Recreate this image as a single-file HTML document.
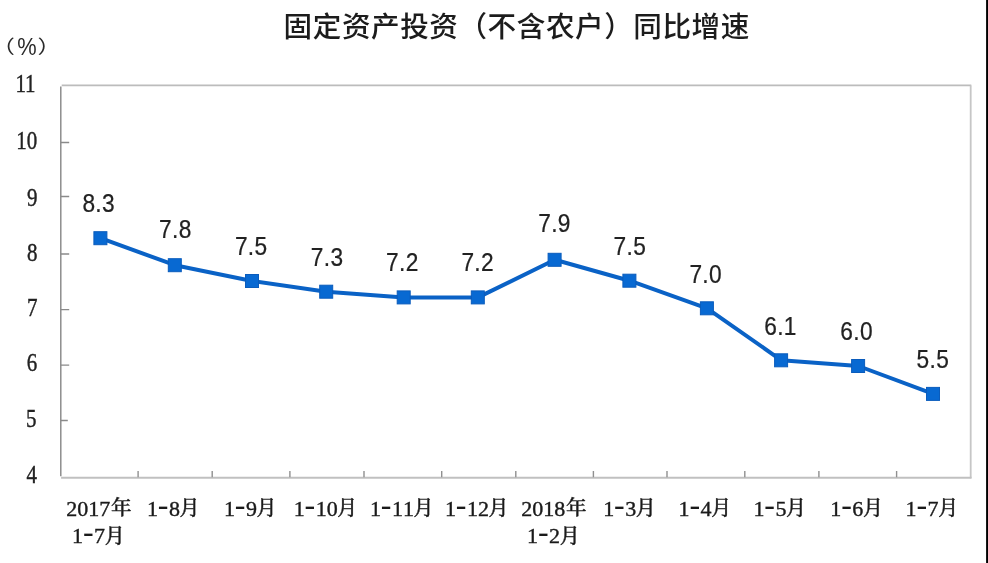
<!DOCTYPE html>
<html lang="zh-CN">
<head>
<meta charset="utf-8">
<title>固定资产投资（不含农户）同比增速</title>
<style>
html,body{margin:0;padding:0;background:#fff;}
body{width:988px;height:563px;overflow:hidden;position:relative;}
svg{position:absolute;left:0;top:0;display:block;}
.title{font-family:"Liberation Sans","Noto Sans CJK SC",sans-serif;font-size:28.6px;letter-spacing:.55px;font-weight:500;fill:#1c1c1c;}
.yl{font-family:"Liberation Serif","Noto Serif CJK SC",serif;font-size:24.4px;fill:#222;stroke:#222;stroke-width:.4px;text-anchor:end;}
.xl{font-family:"Liberation Serif","Noto Serif CJK SC",serif;font-size:22px;font-weight:500;fill:#1a1a1a;stroke:#1a1a1a;stroke-width:.4px;text-anchor:middle;}
.unit{font-family:"Liberation Sans","Noto Sans CJK SC",sans-serif;fill:#2a2a2a;}
.hy{font-size:32px;stroke-width:0;}
.mo{font-size:20px;}
.yr{font-size:20.6px;}
.dl{font-family:"Liberation Sans",sans-serif;font-size:25.8px;letter-spacing:.4px;fill:#222;stroke:#222;stroke-width:.25px;text-anchor:middle;}
</style>
</head>
<body>
<svg width="988" height="563" viewBox="0 0 988 563">
<rect x="0" y="0" width="988" height="563" fill="#ffffff"/>
<rect x="986.1" y="0" width="1.9" height="563" fill="#000"/>
<text class="title" x="283.6" y="37">固定资产投资（不含农户）同比增速</text>
<text class="unit" font-size="18.5" transform="translate(-8.8 52.6) scale(1.28 1)">（</text>
<text class="unit" transform="translate(17.3 55.3) scale(.89 1)" font-size="24.5">%</text>
<text class="unit" font-size="18.5" transform="translate(37.6 52.6) scale(1.28 1)">）</text>
<path d="M61.7 85.3 H971.3" stroke="#bcbcbc" stroke-width="1.8" fill="none"/>
<path d="M970.7 85.5 V478.2" stroke="#c6c6c6" stroke-width="1.8" fill="none"/>
<path d="M61.1 477.8 H971.5" stroke="#c0c0c0" stroke-width="2" fill="none"/>
<path d="M60.8 86.5 V476.2" stroke="#858585" stroke-width="1.4" fill="none"/>
<path d="M60.8 142.5 h8.4 M60.8 196.5 h8.4 M60.8 254.0 h8.4 M60.8 309.6 h8.4 M60.8 365.1 h8.4 M60.8 420.5 h7 " stroke="#8a8a8a" stroke-width="1.4" fill="none"/>
<path d="M138.1 477.2 v-6.2 M212.2 477.2 v-6.2 M289.9 477.2 v-6.2 M364.0 477.2 v-6.2 M441.7 477.2 v-6.2 M515.8 477.2 v-6.2 M593.4 477.2 v-6.2 M667.0 477.2 v-6.2 M744.8 477.2 v-6.2 M818.9 477.2 v-6.2 M896.6 477.2 v-6.2 " stroke="#909090" stroke-width="1.4" fill="none"/>
<text class="yl" transform="translate(35.6 91.8) scale(.86 1)">11</text>
<text class="yl" transform="translate(37.2 149.4) scale(.86 1)">10</text>
<text class="yl" transform="translate(37.4 205.5) scale(.86 1)">9</text>
<text class="yl" transform="translate(37.4 261.0) scale(.86 1)">8</text>
<text class="yl" transform="translate(37.4 316.1) scale(.86 1)">7</text>
<text class="yl" transform="translate(37.2 371.0) scale(.86 1)">6</text>
<text class="yl" transform="translate(36.6 426.7) scale(.86 1)">5</text>
<text class="yl" transform="translate(37.0 483.4) scale(.86 1)">4</text>
<polyline points="100.6,238.2 175,265.2 252.2,281 326.4,291.7 403.9,297.4 478,297.4 554.8,259.8 629.6,280.7 707.1,308.3 781.3,360.3 858.3,366 933.2,393.9" fill="none" stroke="#0a62c6" stroke-width="4" stroke-linejoin="round"/>
<rect x="93.9" y="231.7" width="13" height="13" fill="#0869d2" stroke="#0a5cbc" stroke-width="1"/>
<rect x="168.3" y="258.7" width="13" height="13" fill="#0869d2" stroke="#0a5cbc" stroke-width="1"/>
<rect x="245.5" y="274.5" width="13" height="13" fill="#0869d2" stroke="#0a5cbc" stroke-width="1"/>
<rect x="319.7" y="285.2" width="13" height="13" fill="#0869d2" stroke="#0a5cbc" stroke-width="1"/>
<rect x="397.2" y="290.9" width="13" height="13" fill="#0869d2" stroke="#0a5cbc" stroke-width="1"/>
<rect x="471.3" y="290.9" width="13" height="13" fill="#0869d2" stroke="#0a5cbc" stroke-width="1"/>
<rect x="548.1" y="253.3" width="13" height="13" fill="#0869d2" stroke="#0a5cbc" stroke-width="1"/>
<rect x="622.9" y="274.2" width="13" height="13" fill="#0869d2" stroke="#0a5cbc" stroke-width="1"/>
<rect x="700.4" y="301.8" width="13" height="13" fill="#0869d2" stroke="#0a5cbc" stroke-width="1"/>
<rect x="774.6" y="353.8" width="13" height="13" fill="#0869d2" stroke="#0a5cbc" stroke-width="1"/>
<rect x="851.6" y="359.5" width="13" height="13" fill="#0869d2" stroke="#0a5cbc" stroke-width="1"/>
<rect x="926.5" y="387.4" width="13" height="13" fill="#0869d2" stroke="#0a5cbc" stroke-width="1"/>
<text class="dl" transform="translate(98.7 212.0) scale(.88 1)">8.3</text>
<text class="dl" transform="translate(175.3 237.9) scale(.88 1)">7.8</text>
<text class="dl" transform="translate(251.2 255.2) scale(.88 1)">7.5</text>
<text class="dl" transform="translate(327.1 266.4) scale(.88 1)">7.3</text>
<text class="dl" transform="translate(402.4 271.3) scale(.88 1)">7.2</text>
<text class="dl" transform="translate(477.7 271.3) scale(.88 1)">7.2</text>
<text class="dl" transform="translate(554.5 232.3) scale(.88 1)">7.9</text>
<text class="dl" transform="translate(629.9 254.7) scale(.88 1)">7.5</text>
<text class="dl" transform="translate(705.7 282.5) scale(.88 1)">7.0</text>
<text class="dl" transform="translate(780.5 334.8) scale(.88 1)">6.1</text>
<text class="dl" transform="translate(856.6 340.2) scale(.88 1)">6.0</text>
<text class="dl" transform="translate(932.9 367.6) scale(.88 1)">5.5</text>
<text class="xl" y="515.8"><tspan x="71.8">2</tspan><tspan x="82.8">0</tspan><tspan x="93.8">1</tspan><tspan x="104.8">7</tspan><tspan class="yr" x="121.2" dy="-0.6">年</tspan></text>
<text class="xl" y="543.0"><tspan x="77.6">1</tspan><tspan class="hy" x="88.3" dy="-1.2">-</tspan><tspan x="99.6" dy="1.2">7</tspan><tspan class="mo" x="114.7" dy="-0.4">月</tspan></text>
<text class="xl" y="515.8"><tspan x="152.5">1</tspan><tspan class="hy" x="163.2" dy="-1.2">-</tspan><tspan x="174.5" dy="1.2">8</tspan><tspan class="mo" x="189.6" dy="-0.4">月</tspan></text>
<text class="xl" y="515.8"><tspan x="229.4">1</tspan><tspan class="hy" x="240.1" dy="-1.2">-</tspan><tspan x="251.4" dy="1.2">9</tspan><tspan class="mo" x="266.5" dy="-0.4">月</tspan></text>
<text class="xl" y="515.8"><tspan x="299.2">1</tspan><tspan class="hy" x="309.9" dy="-1.2">-</tspan><tspan x="321.2" dy="1.2">1</tspan><tspan x="332.2">0</tspan><tspan class="mo" x="347.3" dy="-0.4">月</tspan></text>
<text class="xl" y="515.8"><tspan x="375.5">1</tspan><tspan class="hy" x="386.2" dy="-1.2">-</tspan><tspan x="397.5" dy="1.2">1</tspan><tspan x="408.5">1</tspan><tspan class="mo" x="423.6" dy="-0.4">月</tspan></text>
<text class="xl" y="515.8"><tspan x="450.4">1</tspan><tspan class="hy" x="461.1" dy="-1.2">-</tspan><tspan x="472.4" dy="1.2">1</tspan><tspan x="483.4">2</tspan><tspan class="mo" x="498.5" dy="-0.4">月</tspan></text>
<text class="xl" y="515.8"><tspan x="526.8">2</tspan><tspan x="537.8">0</tspan><tspan x="548.8">1</tspan><tspan x="559.8">8</tspan><tspan class="yr" x="576.2" dy="-0.6">年</tspan></text>
<text class="xl" y="543.0"><tspan x="532.6">1</tspan><tspan class="hy" x="543.3" dy="-1.2">-</tspan><tspan x="554.6" dy="1.2">2</tspan><tspan class="mo" x="569.7" dy="-0.4">月</tspan></text>
<text class="xl" y="515.8"><tspan x="608.7">1</tspan><tspan class="hy" x="619.4" dy="-1.2">-</tspan><tspan x="630.7" dy="1.2">3</tspan><tspan class="mo" x="645.8" dy="-0.4">月</tspan></text>
<text class="xl" y="515.8"><tspan x="684.1">1</tspan><tspan class="hy" x="694.8" dy="-1.2">-</tspan><tspan x="706.1" dy="1.2">4</tspan><tspan class="mo" x="721.2" dy="-0.4">月</tspan></text>
<text class="xl" y="515.8"><tspan x="759.0">1</tspan><tspan class="hy" x="769.7" dy="-1.2">-</tspan><tspan x="781.0" dy="1.2">5</tspan><tspan class="mo" x="796.1" dy="-0.4">月</tspan></text>
<text class="xl" y="515.8"><tspan x="835.8">1</tspan><tspan class="hy" x="846.5" dy="-1.2">-</tspan><tspan x="857.8" dy="1.2">6</tspan><tspan class="mo" x="872.9" dy="-0.4">月</tspan></text>
<text class="xl" y="515.8"><tspan x="911.1">1</tspan><tspan class="hy" x="921.8" dy="-1.2">-</tspan><tspan x="933.1" dy="1.2">7</tspan><tspan class="mo" x="948.2" dy="-0.4">月</tspan></text>
</svg>
</body>
</html>
